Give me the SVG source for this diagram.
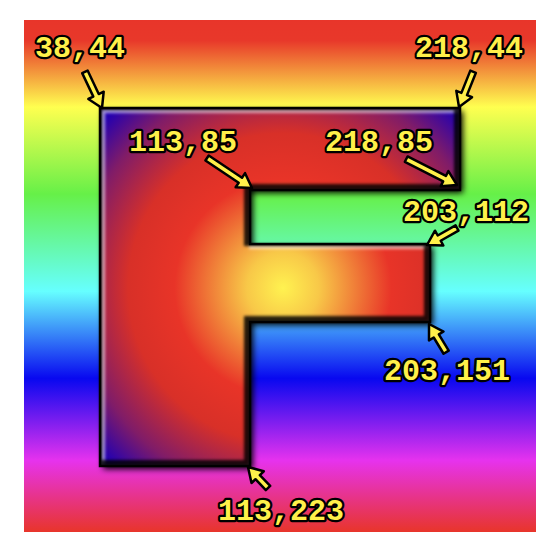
<svg xmlns="http://www.w3.org/2000/svg" width="548" height="548" viewBox="0 0 548 548">
<defs>
<linearGradient id="rainbow" gradientUnits="userSpaceOnUse" x1="0" y1="20" x2="0" y2="532">
<stop offset="0" stop-color="#e8352a"/>
<stop offset="0.04" stop-color="#e8382a"/>
<stop offset="0.17" stop-color="#ffff50"/>
<stop offset="0.34" stop-color="#66f048"/>
<stop offset="0.53" stop-color="#66ffff"/>
<stop offset="0.70" stop-color="#0808f0"/>
<stop offset="0.86" stop-color="#e632ee"/>
<stop offset="1" stop-color="#e8352a"/>
</linearGradient>
<radialGradient id="ffill" gradientUnits="userSpaceOnUse" cx="283" cy="288" r="258">
<stop offset="0" stop-color="#fff250"/>
<stop offset="0.14" stop-color="#f8c848"/>
<stop offset="0.42" stop-color="#e83428"/>
<stop offset="0.6" stop-color="#d83028"/>
<stop offset="0.8" stop-color="#801c68"/>
<stop offset="0.95" stop-color="#2400b0"/>
</radialGradient>
<filter id="blur3" x="-20%" y="-20%" width="140%" height="140%"><feGaussianBlur stdDeviation="3"/></filter>
<filter id="blur1" x="-20%" y="-20%" width="140%" height="140%"><feGaussianBlur stdDeviation="1.5"/></filter>
<clipPath id="fclip"><polygon points="100,108 460,108 460,190 250,190 250,244 430,244 430,322 250,322 250,466 100,466"/></clipPath>
</defs>
<style>
.lbl{font-family:"Liberation Mono","DejaVu Sans Mono",monospace;font-weight:bold;font-size:30px;fill:#fff04a;stroke:#000;stroke-width:4.5;stroke-linejoin:round;paint-order:stroke}
.arr{fill:#fff04a;stroke:#000;stroke-width:2.5;stroke-linejoin:round}
</style>
<rect x="24" y="20" width="512" height="512" fill="url(#rainbow)"/>
<g id="F">
<polygon points="100,108 460,108 460,190 250,190 250,244 430,244 430,322 250,322 250,466 100,466" fill="#000" transform="translate(3,3)" filter="url(#blur3)"/>
<polygon points="100,108 460,108 460,190 250,190 250,244 430,244 430,322 250,322 250,466 100,466" fill="url(#ffill)"/>
<g clip-path="url(#fclip)">
<polygon points="100,108 460,108 460,190 250,190 250,244 430,244 430,322 250,322 250,466 100,466" fill="none" stroke="#fff" stroke-opacity="0.6" stroke-width="6" transform="translate(2,2)" filter="url(#blur1)"/>
<polygon points="100,108 460,108 460,190 250,190 250,244 430,244 430,322 250,322 250,466 100,466" fill="none" stroke="#000" stroke-opacity="0.85" stroke-width="8" transform="translate(-2,-2)" filter="url(#blur1)"/>
</g>
<polygon points="100,108 460,108 460,190 250,190 250,244 430,244 430,322 250,322 250,466 100,466" fill="none" stroke="#000" stroke-width="2.5"/>
</g>
<g id="connectors">
<polygon class="arr" transform="translate(102,108) rotate(64.7)" points="-40,-3 -14,-3 -14,-8.5 0,0 -14,8.5 -14,3 -40,3"/>
<polygon class="arr" transform="translate(459,107) rotate(111.8)" points="-38,-3 -14,-3 -14,-8.5 0,0 -14,8.5 -14,3 -38,3"/>
<polygon class="arr" transform="translate(252,188) rotate(33.7)" points="-54,-3 -14,-3 -14,-8.5 0,0 -14,8.5 -14,3 -54,3"/>
<polygon class="arr" transform="translate(457,185) rotate(27)" points="-57,-3 -14,-3 -14,-8.5 0,0 -14,8.5 -14,3 -57,3"/>
<polygon class="arr" transform="translate(427,245) rotate(150.5)" points="-34.5,-3 -14,-3 -14,-8.5 0,0 -14,8.5 -14,3 -34.5,3"/>
<polygon class="arr" transform="translate(429,324) rotate(-121.3)" points="-33,-3 -14,-3 -14,-8.5 0,0 -14,8.5 -14,3 -33,3"/>
<polygon class="arr" transform="translate(248,467) rotate(-133.6)" points="-29,-3 -14,-3 -14,-8.5 0,0 -14,8.5 -14,3 -29,3"/>
</g>
<g id="label-38-44"><text class="lbl" x="35" y="57">38,44</text></g>
<g id="label-218-44"><text class="lbl" x="415" y="57">218,44</text></g>
<g id="label-113-85"><text class="lbl" x="129" y="151">113,85</text></g>
<g id="label-218-85"><text class="lbl" x="325" y="151">218,85</text></g>
<g id="label-203-112"><text class="lbl" x="403" y="221">203,112</text></g>
<g id="label-203-151"><text class="lbl" x="384" y="380">203,151</text></g>
<g id="label-113-223"><text class="lbl" x="218" y="520">113,223</text></g>
</svg>
